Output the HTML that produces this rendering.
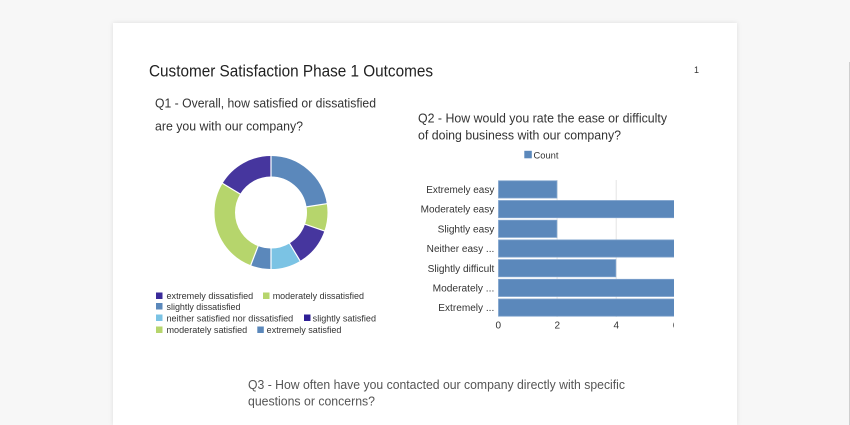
<!DOCTYPE html>
<html>
<head>
<meta charset="utf-8">
<style>
  html,body{margin:0;padding:0;width:850px;height:425px;overflow:hidden;}
  body{background:#f7f7f7;position:relative;font-family:"Liberation Sans",Arial,sans-serif;}
  .card{position:absolute;left:113px;top:23px;width:624px;height:402px;background:#fff;box-shadow:0 0 5px rgba(0,0,0,0.10);}
  .sb{position:absolute;left:849px;top:62px;width:1px;height:363px;background:#cfcfcf;}
  svg{position:absolute;left:0;top:0;}
</style>
</head>
<body>
<div class="card"></div>
<div class="sb"></div>
<svg width="850" height="425" viewBox="0 0 850 425" xmlns="http://www.w3.org/2000/svg" font-family="Liberation Sans, Arial, sans-serif">
  <defs>
    <clipPath id="bc"><rect x="400" y="170" width="274" height="170"/></clipPath>
  </defs>
  <!-- Title -->
  <text x="149" y="76.5" font-size="16.5" fill="#222" textLength="284" lengthAdjust="spacingAndGlyphs">Customer Satisfaction Phase 1 Outcomes</text>
  <text x="694" y="73" font-size="9" fill="#333">1</text>

  <!-- Q1 -->
  <text x="155" y="107.5" font-size="12.8" fill="#333" textLength="221" lengthAdjust="spacingAndGlyphs">Q1 - Overall, how satisfied or dissatisfied</text>
  <text x="155" y="130.5" font-size="12.8" fill="#333" textLength="148" lengthAdjust="spacingAndGlyphs">are you with our company?</text>

  <!-- Donut -->
  <g transform="rotate(-90 271 212.5)" fill="none" stroke-width="20.5">
    <circle cx="271" cy="212.5" r="46.25" stroke="#5b88bb" stroke-dasharray="65.38 300" stroke-dashoffset="0"/>
    <circle cx="271" cy="212.5" r="46.25" stroke="#b6d56c" stroke-dasharray="22.60 300" stroke-dashoffset="-65.38"/>
    <circle cx="271" cy="212.5" r="46.25" stroke="#46369e" stroke-dasharray="32.29 300" stroke-dashoffset="-87.98"/>
    <circle cx="271" cy="212.5" r="46.25" stroke="#7bc3e4" stroke-dasharray="25.02 300" stroke-dashoffset="-120.27"/>
    <circle cx="271" cy="212.5" r="46.25" stroke="#5b88bb" stroke-dasharray="16.95 300" stroke-dashoffset="-145.29"/>
    <circle cx="271" cy="212.5" r="46.25" stroke="#b6d56c" stroke-dasharray="80.72 300" stroke-dashoffset="-162.24"/>
    <circle cx="271" cy="212.5" r="46.25" stroke="#46369e" stroke-dasharray="47.62 300" stroke-dashoffset="-242.96"/>
  </g>
  <g stroke="#fff" stroke-width="1.2">
    <line x1="271" y1="177.5" x2="271" y2="154.5"/>
    <line x1="305.57" y1="207.03" x2="328.29" y2="203.43"/>
    <line x1="304.09" y1="223.9" x2="325.84" y2="231.38"/>
    <line x1="289.03" y1="242.5" x2="300.87" y2="262.22"/>
    <line x1="271" y1="247.5" x2="271" y2="270.5"/>
    <line x1="258.46" y1="245.18" x2="250.21" y2="266.65"/>
    <line x1="241.0" y1="194.48" x2="221.28" y2="182.63"/>
  </g>

  <!-- Q1 legend -->
  <g font-size="9" fill="#333">
    <rect x="156" y="292.5" width="6.5" height="6.5" fill="#3a2a9a"/>
    <text x="166.5" y="299" textLength="86.7" lengthAdjust="spacingAndGlyphs">extremely dissatisfied</text>
    <rect x="263" y="292.5" width="6.5" height="6.5" fill="#b6d56c"/>
    <text x="272.7" y="299" textLength="91.3" lengthAdjust="spacingAndGlyphs">moderately dissatisfied</text>

    <rect x="156" y="303" width="6.5" height="6.5" fill="#5b88bb"/>
    <text x="166.5" y="309.8" textLength="74" lengthAdjust="spacingAndGlyphs">slightly dissatisfied</text>

    <rect x="156" y="314.5" width="6.5" height="6.5" fill="#7bc3e4"/>
    <text x="166.5" y="321.3" textLength="126.7" lengthAdjust="spacingAndGlyphs">neither satisfied nor dissatisfied</text>
    <rect x="304" y="314.5" width="6.5" height="6.5" fill="#2e1f96"/>
    <text x="312.7" y="321.3" textLength="63.3" lengthAdjust="spacingAndGlyphs">slightly satisfied</text>

    <rect x="156" y="326.5" width="6.5" height="6.5" fill="#b6d56c"/>
    <text x="166.5" y="333.2" textLength="80.7" lengthAdjust="spacingAndGlyphs">moderately satisfied</text>
    <rect x="257.3" y="326.5" width="6.5" height="6.5" fill="#5b88bb"/>
    <text x="266.7" y="333.2" textLength="74.7" lengthAdjust="spacingAndGlyphs">extremely satisfied</text>
  </g>

  <!-- Q2 -->
  <text x="418" y="122.7" font-size="13" fill="#333" textLength="249" lengthAdjust="spacingAndGlyphs">Q2 - How would you rate the ease or difficulty</text>
  <text x="418" y="139.5" font-size="13" fill="#333" textLength="203" lengthAdjust="spacingAndGlyphs">of doing business with our company?</text>

  <rect x="524.3" y="150.8" width="7.5" height="7.5" fill="#5b88bb"/>
  <text x="533.5" y="158.3" font-size="8.8" fill="#333" textLength="25" lengthAdjust="spacingAndGlyphs">Count</text>

  <g clip-path="url(#bc)">
    <g stroke="#e4e4e4" stroke-width="1">
      <line x1="557.1" y1="180" x2="557.1" y2="317"/>
      <line x1="616.2" y1="180" x2="616.2" y2="317"/>
    </g>
    <g fill="#5b88bb" stroke="#7fa3cd" stroke-width="0.8">
      <rect x="498.5" y="180.8" width="58.4" height="17.2"/>
      <rect x="498.5" y="200.5" width="200" height="17.2"/>
      <rect x="498.5" y="220.2" width="58.4" height="17.2"/>
      <rect x="498.5" y="239.9" width="200" height="17.2"/>
      <rect x="498.5" y="259.6" width="117.3" height="17.2"/>
      <rect x="498.5" y="279.3" width="200" height="17.2"/>
      <rect x="498.5" y="299" width="200" height="17.2"/>
    </g>
    <g font-size="10" fill="#333" text-anchor="middle">
      <text x="498.3" y="328.3">0</text>
      <text x="557.3" y="328.3">2</text>
      <text x="616.3" y="328.3">4</text>
      <text x="675.5" y="328.3">6</text>
    </g>
  </g>

  <g font-size="10" fill="#333" text-anchor="end">
    <text x="494.3" y="193" textLength="68" lengthAdjust="spacingAndGlyphs">Extremely easy</text>
    <text x="494.3" y="212.7" textLength="73.6" lengthAdjust="spacingAndGlyphs">Moderately easy</text>
    <text x="494.3" y="232.4" textLength="56.7" lengthAdjust="spacingAndGlyphs">Slightly easy</text>
    <text x="494.3" y="252.1" textLength="67.6" lengthAdjust="spacingAndGlyphs">Neither easy ...</text>
    <text x="494.3" y="271.8" textLength="66.7" lengthAdjust="spacingAndGlyphs">Slightly difficult</text>
    <text x="494.3" y="291.5" textLength="61.7" lengthAdjust="spacingAndGlyphs">Moderately ...</text>
    <text x="494.3" y="311.2" textLength="56" lengthAdjust="spacingAndGlyphs">Extremely ...</text>
  </g>

  <!-- Q3 -->
  <text x="248" y="389" font-size="12.5" fill="#555" textLength="377" lengthAdjust="spacingAndGlyphs">Q3 - How often have you contacted our company directly with specific</text>
  <text x="248" y="405.5" font-size="12.5" fill="#555" textLength="127" lengthAdjust="spacingAndGlyphs">questions or concerns?</text>
</svg>
</body>
</html>
